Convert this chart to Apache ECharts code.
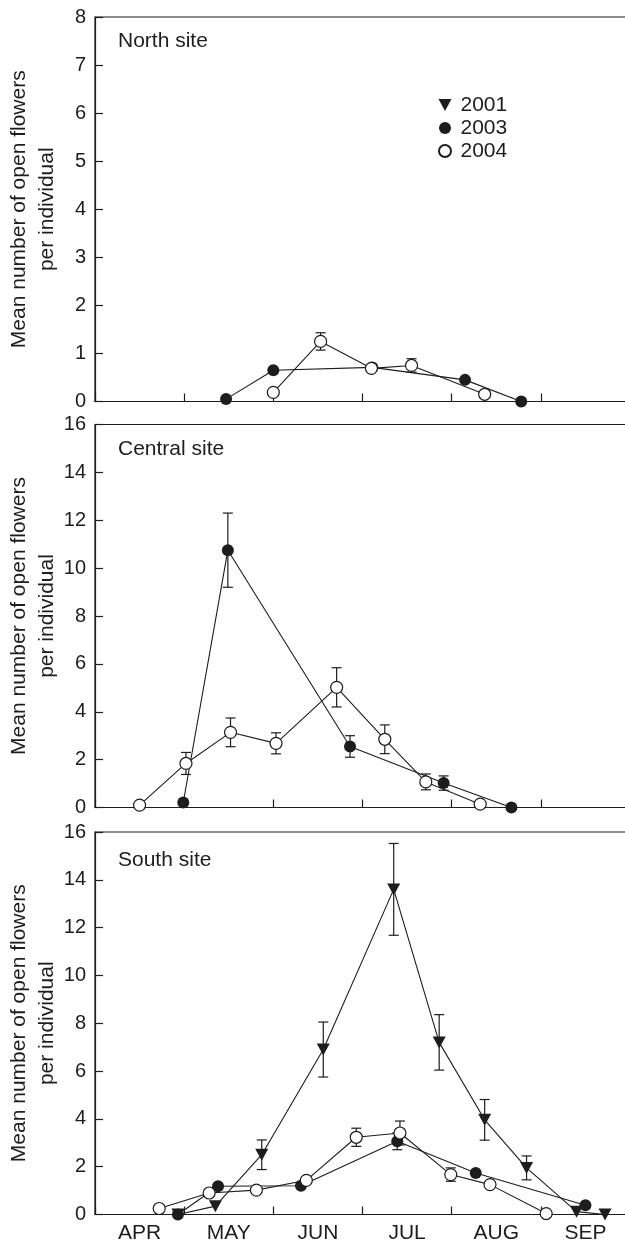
<!DOCTYPE html>
<html>
<head>
    <meta charset="UTF-8">
    <title>Open flowers per individual</title>
    <script src="https://cdn.jsdelivr.net/npm/echarts@6/dist/echarts.min.js"></script>
    <style>
        html, body { margin: 0; padding: 0; background: #fff; }
        #main { width: 625px; height: 1244px; }
    </style>
</head>
<body>
    <div id="main"></div>

    <script>
        // month bands on the x axis (position 0 = start of April, 1 unit = 1 month)
        const months = ['APR', 'MAY', 'JUN', 'JUL', 'AUG', 'SEP'];
        const sites = ['North site', 'Central site', 'South site'];
        const yMax = [8, 16, 16];
        const yStep = [1, 2, 2];

        // North site
        const north03X = [1.47, 2.00, 3.11, 4.15, 4.78];
        const north03Y = [0.05, 0.65, 0.71, 0.45, 0.00];
        const north03E = [0, 0, 0, 0, 0];
        const north04X = [2.00, 2.53, 3.10, 3.55, 4.37];
        const north04Y = [0.19, 1.25, 0.69, 0.75, 0.15];
        const north04E = [0, 0.18, 0, 0.14, 0];

        // Central site
        const central03X = [0.99, 1.49, 2.86, 3.91, 4.67];
        const central03Y = [0.21, 10.75, 2.55, 1.02, 0.00];
        const central03E = [0, 1.55, 0.45, 0.3, 0];
        const central04X = [0.50, 1.02, 1.52, 2.03, 2.71, 3.25, 3.71, 4.32];
        const central04Y = [0.10, 1.84, 3.14, 2.68, 5.02, 2.85, 1.07, 0.14];
        const central04E = [0, 0.46, 0.6, 0.44, 0.82, 0.6, 0.33, 0];

        // South site
        const south01X = [0.93, 1.35, 1.87, 2.56, 3.35, 3.86, 4.37, 4.84, 5.40, 5.72];
        const south01Y = [0.00, 0.35, 2.50, 6.90, 13.60, 7.20, 3.96, 1.95, 0.12, 0.00];
        const south01E = [0, 0, 0.62, 1.15, 1.92, 1.16, 0.85, 0.5, 0, 0];
        const south03X = [0.93, 1.38, 2.31, 3.39, 4.27, 5.50];
        const south03Y = [0.00, 1.18, 1.20, 3.06, 1.74, 0.39];
        const south03E = [0, 0, 0, 0.35, 0, 0];
        const south04X = [0.72, 1.28, 1.81, 2.37, 2.93, 3.42, 3.99, 4.43, 5.06];
        const south04Y = [0.25, 0.90, 1.02, 1.43, 3.23, 3.41, 1.67, 1.25, 0.04];
        const south04E = [0, 0, 0, 0, 0.38, 0.5, 0.28, 0, 0];

        const ink = '#1e1c1d';
        const font = "'Liberation Sans', Arial, Helvetica, sans-serif";
        const triangle = 'path://M0,0L12,0L6,11Z';

        const gridTops = [17, 424.5, 832];
        const gridHeights = [384.5, 383, 382.5];
        const titleY = [42, 450, 861];

        const pairs = (xs, ys) => xs.map((x, i) => [x, ys[i]]);
        const triples = (xs, ys, es) => xs.map((x, i) => [x, ys[i], es[i]]);

        const styles = {
            '2001': { symbol: triangle, symbolSize: [13, 12], itemStyle: { color: ink } },
            '2003': { symbol: 'circle', symbolSize: 12, itemStyle: { color: ink } },
            '2004': { symbol: 'circle', symbolSize: 12, itemStyle: { color: '#fff', borderColor: ink, borderWidth: 1.2 } }
        };

        const siteData = [
            [['2003', north03X, north03Y, north03E], ['2004', north04X, north04Y, north04E]],
            [['2003', central03X, central03Y, central03E], ['2004', central04X, central04Y, central04E]],
            [['2001', south01X, south01Y, south01E], ['2003', south03X, south03Y, south03E], ['2004', south04X, south04Y, south04E]]
        ];

        function errorBars(params, api) {
            const e = api.value(2);
            if (!e) return null;
            const x = api.value(0), y = api.value(1);
            const top = api.coord([x, y + e]);
            const bot = api.coord([x, y - e]);
            const cap = 5;
            const st = { stroke: ink, lineWidth: 1.2 };
            return {
                type: 'group',
                children: [
                    { type: 'line', shape: { x1: top[0], y1: top[1], x2: bot[0], y2: bot[1] }, style: st },
                    { type: 'line', shape: { x1: top[0] - cap, y1: top[1], x2: top[0] + cap, y2: top[1] }, style: st },
                    { type: 'line', shape: { x1: bot[0] - cap, y1: bot[1], x2: bot[0] + cap, y2: bot[1] }, style: st }
                ]
            };
        }

        const grid = [], xAxis = [], yAxis = [], series = [], graphic = [];

        sites.forEach((site, g) => {
            grid.push({
                left: 95, width: 535, top: gridTops[g], height: gridHeights[g],
                containLabel: false, outerBoundsMode: 'none',
                show: true, borderColor: ink, borderWidth: 1.2
            });
            // month bands: ticks at boundaries, labels centred in each month
            xAxis.push({
                type: 'category', gridIndex: g, data: months, boundaryGap: true,
                axisLine: { lineStyle: { color: ink, width: 1.2 } },
                axisTick: { show: true, interval: 0, inside: true, length: 8, lineStyle: { color: ink, width: 1.2 } },
                axisLabel: { show: g === 2, interval: 0, color: ink, fontFamily: font, fontSize: 21, margin: 8 },
                splitLine: { show: false }
            });
            // numeric axis used to place the points
            xAxis.push({ type: 'value', gridIndex: g, min: 0, max: 6, show: false });
            yAxis.push({
                type: 'value', gridIndex: g, min: 0, max: yMax[g], interval: yStep[g],
                name: 'Mean number of open flowers\nper individual',
                nameLocation: 'middle', nameRotate: 90, nameGap: 34, nameMoveOverlap: false,
                nameTextStyle: { color: ink, fontFamily: font, fontSize: 21, lineHeight: 28 },
                axisLine: { show: true, lineStyle: { color: ink, width: 1.2 } },
                axisTick: { show: true, inside: true, length: 8, lineStyle: { color: ink, width: 1.2 } },
                axisLabel: { color: ink, fontFamily: font, fontSize: 20, margin: 9 },
                splitLine: { show: false }
            });
            graphic.push({
                type: 'text', left: 118, top: titleY[g] - 11.5,
                style: { text: site, fill: ink, font: '21px ' + font }
            });

            siteData[g].forEach(([year, xs, ys, es]) => {
                series.push({
                    name: 'se ' + year, type: 'custom', xAxisIndex: 2 * g + 1, yAxisIndex: g,
                    renderItem: errorBars, data: triples(xs, ys, es), z: 2, silent: true
                });
            });
            siteData[g].forEach(([year, xs, ys]) => {
                series.push(Object.assign({
                    name: year, type: 'line', xAxisIndex: 2 * g + 1, yAxisIndex: g,
                    data: pairs(xs, ys), showSymbol: true,
                    lineStyle: { color: ink, width: 1.1 }, z: 3
                }, styles[year]));
            });
        });

        const chart = echarts.init(document.getElementById('main'));
        chart.setOption({
            animation: false,
            backgroundColor: '#fff',
            grid: grid,
            xAxis: xAxis,
            yAxis: yAxis,
            series: series,
            graphic: graphic,
            legend: {
                orient: 'vertical', left: 433, top: 88.5,
                itemWidth: 13, itemHeight: 12, itemGap: 0,
                selectedMode: false,
                textStyle: { color: ink, fontFamily: font, fontSize: 21, lineHeight: 23, padding: [0, 0, 0, 4] },
                data: [
                    { name: '2001', icon: triangle },
                    { name: '2003', icon: 'circle' },
                    { name: '2004', icon: 'circle' }
                ]
            }
        });
    </script>
</body>
</html>
